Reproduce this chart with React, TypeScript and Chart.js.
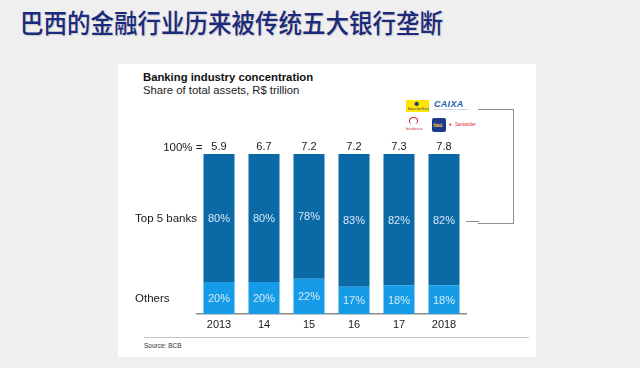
import React, { useEffect, useRef } from "react";
import { Chart, registerables } from "chart.js";

Chart.register(...registerables);

const years = ["2013", "14", "15", "16", "17", "2018"];
const top5Share = [80, 80, 78, 83, 82, 82];
const othersShare = [20, 20, 22, 17, 18, 18];
const totalAssets = ["5.9", "6.7", "7.2", "7.2", "7.3", "7.8"];
const rowLabels = ["Others", "Top 5 banks"];

const DARK = "#0b69a6";
const LIGHT = "#169ce6";
const FONT = "'Liberation Sans', Arial, sans-serif";

const labelPlugin = {
  id: "labels",
  afterDatasetsDraw(chart: any) {
    const ctx = chart.ctx;
    ctx.save();
    ctx.textBaseline = "middle";
    chart.data.datasets.forEach((ds: any, i: number) => {
      const meta = chart.getDatasetMeta(i);
      meta.data.forEach((el: any, j: number) => {
        const cy = (el.y + el.base) / 2;
        ctx.fillStyle = "#d4e9f7";
        ctx.font = `11px ${FONT}`;
        ctx.textAlign = "center";
        ctx.fillText(ds.data[j] + "%", el.x, cy + 1);
        if (j === 0) {
          ctx.fillStyle = "#1a1a1a";
          ctx.textAlign = "left";
          ctx.font = `11.5px ${FONT}`;
          ctx.fillText(rowLabels[i], chart.chartArea.left - 61.5, cy + 1);
        }
      });
    });
    const topMeta = chart.getDatasetMeta(chart.data.datasets.length - 1);
    topMeta.data.forEach((el: any, j: number) => {
      ctx.fillStyle = "#1a1a1a";
      ctx.font = `11px ${FONT}`;
      ctx.textAlign = "center";
      ctx.fillText(totalAssets[j], el.x, el.y - 7);
      if (j === 0) {
        ctx.textAlign = "right";
        ctx.font = `11.5px ${FONT}`;
        ctx.fillText("100% =", el.x - el.width / 2 - 1, el.y - 6);
      }
    });
    ctx.restore();
  },
};

function Logos() {
  const tiny: React.CSSProperties = { position: "absolute", fontFamily: FONT, whiteSpace: "nowrap", lineHeight: 1 };
  return (
    <>
      <div style={{ position: "absolute", left: 406, top: 100, width: 23, height: 12, background: "#ffe600" }}>
        <div style={{ ...tiny, left: 8, top: 1, fontSize: 6, color: "#2a3a6a", fontWeight: 700 }}>✽</div>
        <div style={{ ...tiny, left: 2, top: 8, fontSize: 3, color: "#2a3a6a" }}>Banco do Brasil</div>
      </div>
      <div style={{ ...tiny, left: 434, top: 100, fontSize: 9, fontWeight: 700, fontStyle: "italic", color: "#2462b0", letterSpacing: 0.3 }}>CAIXA</div>
      <div style={{ ...tiny, left: 434, top: 109, fontSize: 2.5, color: "#6b8fc4" }}>CAIXA ECONÔMICA FEDERAL</div>
      <div style={{ position: "absolute", left: 409, top: 117, width: 7, height: 6, border: "1.5px solid #d62b35", borderRadius: "50% 50% 40% 40%", borderBottom: "none" }} />
      <div style={{ ...tiny, left: 406, top: 127, fontSize: 4, color: "#d62b35" }}>bradesco</div>
      <div style={{ position: "absolute", left: 432, top: 118, width: 14, height: 14, background: "#1e3a8a", borderRadius: 2 }}>
        <div style={{ ...tiny, left: 1.5, top: 5, fontSize: 5, color: "#ffcc33", fontWeight: 700 }}>Itaú</div>
      </div>
      <div style={{ ...tiny, left: 449, top: 122, fontSize: 5, color: "#e3262b", fontWeight: 700 }}>♦</div>
      <div style={{ ...tiny, left: 455, top: 123, fontSize: 4.5, color: "#e3262b" }}>Santander</div>
    </>
  );
}

export default function App() {
  const canvasRef = useRef<HTMLCanvasElement | null>(null);

  useEffect(() => {
    document.body.style.margin = "0";
    const chart = new Chart(canvasRef.current as HTMLCanvasElement, {
      type: "bar",
      data: {
        labels: years,
        datasets: [
          { label: "Others", data: othersShare, backgroundColor: LIGHT, categoryPercentage: 1, barPercentage: 0.69 },
          { label: "Top 5 banks", data: top5Share, backgroundColor: DARK, categoryPercentage: 1, barPercentage: 0.69 },
        ],
      },
      options: {
        responsive: false,
        animation: false,
        events: [],
        layout: { padding: { left: 196.5, right: 173.5, top: 154, bottom: 32.8 } },
        plugins: { legend: { display: false }, tooltip: { enabled: false } },
        scales: {
          x: {
            stacked: true,
            grid: { display: false, drawTicks: false },
            border: { display: true, color: "#8c8c8c", width: 1.5 },
            ticks: { color: "#1a1a1a", font: { family: FONT, size: 11 }, padding: 4 },
          },
          y: { stacked: true, display: false, min: 0, max: 100 },
        },
      },
      plugins: [labelPlugin],
    });
    return () => chart.destroy();
  }, []);

  const abs: React.CSSProperties = { position: "absolute" };
  return (
    <div style={{ position: "fixed", left: 0, top: 0, width: 640, height: 368, background: "#efefef", overflow: "hidden" }}>
      <div
        style={{
          ...abs,
          left: 20,
          top: 6,
          fontFamily: "'Noto Sans CJK SC', sans-serif",
          fontSize: 23.5,
          fontWeight: 500,
          color: "#1c2a7c",
          whiteSpace: "nowrap",
          lineHeight: 1.2,
          transform: "scaleY(1.12)",
          transformOrigin: "top left",
          textShadow: "1px 1px 1px rgba(0,0,0,0.15)",
        }}
      >
        巴西的金融行业历来被传统五大银行垄断
      </div>
      <div style={{ ...abs, left: 118, top: 64, width: 418, height: 293, background: "#ffffff" }} />
      <div style={{ ...abs, left: 143, top: 71, fontFamily: FONT, fontSize: 11.3, fontWeight: 700, color: "#111", whiteSpace: "nowrap", lineHeight: 1.2 }}>
        Banking industry concentration
      </div>
      <div style={{ ...abs, left: 143, top: 84, fontFamily: FONT, fontSize: 11.3, color: "#222", whiteSpace: "nowrap", lineHeight: 1.2 }}>
        Share of total assets, R$ trillion
      </div>
      <div style={{ ...abs, left: 144, top: 337, width: 385, height: 1, background: "#c4c4c4" }} />
      <div style={{ ...abs, left: 144, top: 342, fontFamily: FONT, fontSize: 6.5, color: "#333", whiteSpace: "nowrap", lineHeight: 1.2 }}>
        Source: BCB
      </div>
      <Logos />
      <div style={{ ...abs, left: 478, top: 109, width: 35, height: 113, borderTop: "1px solid #8c8c8c", borderRight: "1px solid #8c8c8c", borderBottom: "1px solid #8c8c8c" }} />
      <div style={{ ...abs, left: 466, top: 221, width: 13, height: 1, background: "#8c8c8c" }} />
      <canvas ref={canvasRef} width={640} height={368} style={{ ...abs, left: 0, top: 0 }} />
    </div>
  );
}
